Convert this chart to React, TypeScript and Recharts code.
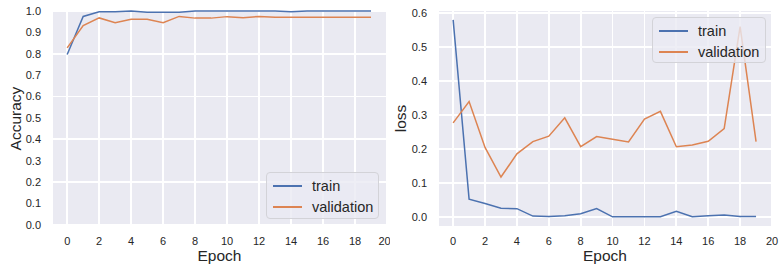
import { LineChart, Line, XAxis, YAxis, CartesianGrid, Legend, Label } from 'recharts';

// ── data ────────────────────────────────────────────────────────────────
const epochs = [0, 1, 2, 3, 4, 5, 6, 7, 8, 9, 10, 11, 12, 13, 14, 15, 16, 17, 18, 19];

const accTrain = [0.797, 0.975, 0.997, 0.997, 1.0, 0.994, 0.995, 0.995, 1.0, 1.0, 1.0, 1.0, 1.0, 1.0, 0.997, 1.0, 1.0, 1.0, 1.0, 1.0];
const accVal = [0.828, 0.932, 0.968, 0.946, 0.962, 0.962, 0.946, 0.975, 0.967, 0.967, 0.974, 0.969, 0.975, 0.971, 0.971, 0.971, 0.971, 0.971, 0.971, 0.971];

const lossTrain = [0.58, 0.053, 0.04, 0.026, 0.025, 0.003, 0.002, 0.004, 0.01, 0.025, 0.001, 0.001, 0.001, 0.001, 0.017, 0.001, 0.004, 0.006, 0.002, 0.002];
const lossVal = [0.277, 0.34, 0.205, 0.118, 0.186, 0.222, 0.238, 0.292, 0.207, 0.237, 0.229, 0.221, 0.288, 0.311, 0.207, 0.212, 0.223, 0.26, 0.56, 0.222];

const xTicks = [0, 2, 4, 6, 8, 10, 12, 14, 16, 18, 20];
const accTicks = [0.0, 0.1, 0.2, 0.3, 0.4, 0.5, 0.6, 0.7, 0.8, 0.9, 1.0];
const lossTicks = [0.0, 0.1, 0.2, 0.3, 0.4, 0.5, 0.6];

const seriesNames = ['train', 'validation'];
const seriesColors = ['#4C72B0', '#DD8452'];

const accData = epochs.map((e, i) => ({ epoch: e, train: accTrain[i], validation: accVal[i] }));
const lossData = epochs.map((e, i) => ({ epoch: e, train: lossTrain[i], validation: lossVal[i] }));

const FONT = '"Liberation Sans", Arial, sans-serif';
const TICK = { fill: '#262626', fontSize: 11, fontFamily: FONT };

// seaborn-ish legend box
const LegendBox = () => (
    <div
        style={{
            width: '100%',
            height: '100%',
            boxSizing: 'border-box',
            border: '1px solid #d3d3d8',
            borderRadius: 4,
            background: 'rgba(234,234,242,0.8)',
            fontFamily: FONT,
            fontSize: 14.5,
            color: '#262626',
            paddingTop: 3,
        }}
    >
        {seriesNames.map((name, i) => (
            <div key={name} style={{ display: 'flex', alignItems: 'center', height: 20.5 }}>
                <svg width={40} height={10} style={{ flex: 'none' }}>
                    <line x1={6} x2={35} y1={5} y2={5} stroke={seriesColors[i]} strokeWidth={2} />
                </svg>
                <span style={{ marginLeft: 5 }}>{name}</span>
            </div>
        ))}
    </div>
);

const yTitle = (text: string, x: number) => (props: any) => {
    const vb = props.viewBox;
    const cy = vb.y + vb.height / 2;
    return (
        <text
            x={x}
            y={cy}
            transform={`rotate(-90 ${x} ${cy})`}
            textAnchor="middle"
            fill="#262626"
            fontSize={15.5}
            fontFamily={FONT}
        >
            {text}
        </text>
    );
};

type PanelProps = {
    data: any[];
    width: number;
    yWidth: number;
    rightMargin: number;
    yDomain: [number, number];
    yTicks: number[];
    yLabel: string;
    yLabelX: number;
    legendPos: { left: number; top: number; width: number; height: number };
};

function Panel({ data, width, yWidth, rightMargin, yDomain, yTicks, yLabel, yLabelX, legendPos }: PanelProps) {
    return (
        <LineChart width={width} height={267} data={data} margin={{ top: 10, right: rightMargin, bottom: 0, left: 0 }}>
            <CartesianGrid fill="#EAEAF2" stroke="#FFFFFF" strokeWidth={1.8} shapeRendering="crispEdges" />
            <XAxis
                dataKey="epoch"
                type="number"
                domain={[-0.95, 20]}
                ticks={xTicks}
                allowDataOverflow
                axisLine={false}
                tickLine={false}
                tickMargin={4}
                height={40}
                tick={TICK}
            >
                <Label value="Epoch" position="insideBottom" offset={6} fill="#262626" fontSize={15.5} fontFamily={FONT} />
            </XAxis>
            <YAxis
                type="number"
                domain={yDomain}
                ticks={yTicks}
                allowDataOverflow
                axisLine={false}
                tickLine={false}
                tickMargin={5}
                width={yWidth}
                tick={TICK}
                tickFormatter={(v: number) => v.toFixed(1)}
            >
                <Label content={yTitle(yLabel, yLabelX)} />
            </YAxis>
            <Legend
                layout="horizontal"
                verticalAlign="middle"
                align="center"
                content={() => <LegendBox />}
                wrapperStyle={{ ...legendPos, position: 'absolute' }}
            />
            {seriesNames.map((name, i) => (
                <Line
                    key={name}
                    type="linear"
                    dataKey={name}
                    stroke={seriesColors[i]}
                    strokeWidth={1.5}
                    dot={false}
                    isAnimationActive={false}
                />
            ))}
        </LineChart>
    );
}

export default function App() {
    return (
        <div style={{ position: 'absolute', left: 0, top: 0, width: 781, height: 267, background: '#fff' }}>
            <div style={{ position: 'absolute', left: 0, top: 0 }}>
                <Panel
                    data={accData}
                    width={390}
                    yWidth={52}
                    rightMargin={3}
                    yDomain={[-0.01, 1.005]}
                    yTicks={accTicks}
                    yLabel="Accuracy"
                    yLabelX={20.5}
                    legendPos={{ left: 266, top: 172, width: 113, height: 47 }}
                />
            </div>
            <div style={{ position: 'absolute', left: 390, top: 0 }}>
                <Panel
                    data={lossData}
                    width={391}
                    yWidth={48}
                    rightMargin={9}
                    yDomain={[-0.029, 0.609]}
                    yTicks={lossTicks}
                    yLabel="loss"
                    yLabelX={16}
                    legendPos={{ left: 262, top: 17, width: 114, height: 46 }}
                />
            </div>
        </div>
    );
}
